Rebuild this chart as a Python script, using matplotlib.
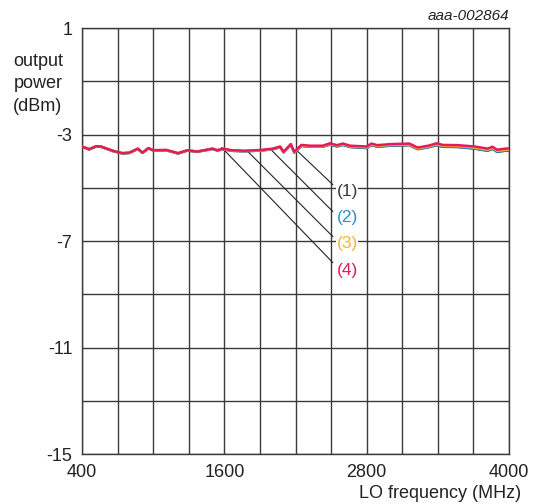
import numpy as np
import matplotlib
matplotlib.use('Agg')
import matplotlib.pyplot as plt

plt.rcParams['font.family'] = ['Liberation Sans', 'DejaVu Sans']

# LO frequency (MHz)
freq = [400, 460, 520, 560, 660, 740, 800, 870, 910, 960, 1000, 1110, 1210,
        1290, 1370, 1430, 1500, 1540, 1590, 1660, 1770, 1910, 2010, 2070,
        2100, 2160, 2190, 2250, 2320, 2430, 2490, 2550, 2600, 2660, 2800,
        2840, 2890, 3000, 3080, 3160, 3230, 3320, 3390, 3440, 3570, 3710,
        3820, 3860, 3900, 3970, 4000]

# output power (dBm), curves (1)..(4)
pwr1 = [-3.46, -3.56, -3.45, -3.46, -3.62, -3.71, -3.69, -3.54, -3.69, -3.52,
        -3.60, -3.59, -3.71, -3.60, -3.65, -3.60, -3.54, -3.60, -3.55, -3.61,
        -3.63, -3.60, -3.55, -3.48, -3.67, -3.39, -3.68, -3.43, -3.46, -3.46,
        -3.38, -3.45, -3.39, -3.47, -3.51, -3.40, -3.46, -3.42, -3.41, -3.40,
        -3.55, -3.48, -3.40, -3.46, -3.47, -3.53, -3.61, -3.54, -3.65, -3.61,
        -3.60]
pwr2 = [-3.46, -3.56, -3.45, -3.46, -3.62, -3.71, -3.69, -3.54, -3.69, -3.52,
        -3.60, -3.59, -3.71, -3.60, -3.65, -3.60, -3.54, -3.60, -3.55, -3.61,
        -3.63, -3.60, -3.55, -3.47, -3.67, -3.38, -3.68, -3.42, -3.45, -3.45,
        -3.37, -3.44, -3.38, -3.46, -3.50, -3.39, -3.45, -3.41, -3.40, -3.39,
        -3.54, -3.47, -3.39, -3.45, -3.46, -3.52, -3.60, -3.53, -3.64, -3.60,
        -3.59]
pwr3 = [-3.45, -3.55, -3.44, -3.45, -3.61, -3.70, -3.68, -3.53, -3.68, -3.51,
        -3.59, -3.58, -3.70, -3.59, -3.64, -3.59, -3.53, -3.59, -3.54, -3.60,
        -3.62, -3.59, -3.54, -3.46, -3.66, -3.37, -3.67, -3.41, -3.44, -3.44,
        -3.35, -3.42, -3.36, -3.44, -3.48, -3.37, -3.43, -3.39, -3.38, -3.37,
        -3.52, -3.45, -3.36, -3.42, -3.43, -3.49, -3.57, -3.50, -3.61, -3.57,
        -3.56]
pwr4 = [-3.45, -3.55, -3.44, -3.45, -3.61, -3.70, -3.68, -3.53, -3.68, -3.51,
        -3.59, -3.58, -3.70, -3.59, -3.64, -3.59, -3.53, -3.59, -3.53, -3.59,
        -3.61, -3.58, -3.53, -3.45, -3.65, -3.36, -3.65, -3.39, -3.42, -3.42,
        -3.33, -3.40, -3.34, -3.42, -3.45, -3.34, -3.40, -3.36, -3.35, -3.34,
        -3.49, -3.42, -3.33, -3.39, -3.40, -3.45, -3.53, -3.46, -3.57, -3.53,
        -3.52]

labels = ['(1)', '(2)', '(3)', '(4)']
colors = ['#3a3a3a', '#2a8fc9', '#f9b233', '#e6195b']

# leader lines: start on curve, end near label
lead_start = [(2211, -3.60), (2000, -3.60), (1789, -3.60), (1578, -3.49)]
lead_end = [(2514, -4.88), (2514, -5.89), (2514, -6.83), (2514, -7.81)]
label_pos = [(2545, -5.14), (2545, -6.12), (2545, -7.09), (2545, -8.11)]

fig = plt.figure(figsize=(5.35, 5.04), dpi=100)
ax = fig.add_axes([0.1533, 0.0992, 0.7981, 0.8452])

gc = '#3a3a3a'
for x in np.arange(400, 4001, 300):
    ax.axvline(x, color=gc, lw=1.0, zorder=1)
for y in np.arange(-15, 1.1, 2):
    ax.axhline(y, color=gc, lw=1.0, zorder=1)

for s, e in zip(lead_start, lead_end):
    ax.plot([s[0], e[0]], [s[1], e[1]], color='#222222', lw=0.8, zorder=2)

for vals, c in zip([pwr1, pwr2, pwr3, pwr4], colors):
    ax.plot(freq, vals, color=c, lw=1.8, zorder=3)

for lab, pos, c in zip(labels, label_pos, colors):
    ax.text(pos[0], pos[1], lab, color=c, fontsize=12.5, ha='left',
            va='center', zorder=4,
            bbox=dict(facecolor='white', edgecolor='none', pad=0.5))

ax.set_xlim(400, 4000)
ax.set_ylim(-15, 1)
ax.set_xticks([400, 1600, 2800, 4000])
ax.set_yticks([1, -3, -7, -11, -15])
ax.set_yticklabels(['1', '-3', '-7', '-11', '-15'])
ax.tick_params(length=0, labelsize=13, colors='#222222', pad=7)
for sp in ax.spines.values():
    sp.set_color(gc)
    sp.set_linewidth(1.0)

fig.text(38 / 535, 1 - 84 / 504, 'output\npower\n(dBm)', ha='center',
         va='center', fontsize=13, color='#222222', linespacing=1.45)
fig.text(509 / 535, 1 - 16 / 504, 'aaa-002864', ha='right', va='center',
         fontsize=11, style='italic', color='#222222')
fig.text(521 / 535, 1 - 493 / 504, 'LO frequency (MHz)', ha='right',
         va='center', fontsize=13, color='#222222')

fig.savefig('out.png', dpi=100)
